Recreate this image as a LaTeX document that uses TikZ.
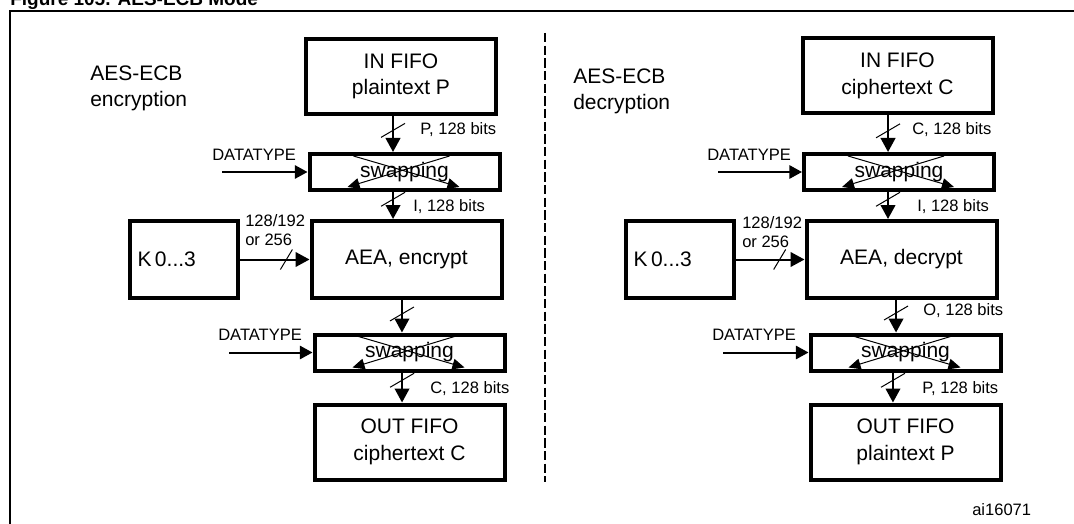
\documentclass[tikz,border=0pt]{standalone}
\usepackage{fontspec}
\setmainfont{Liberation Sans}
\usetikzlibrary{arrows.meta}

\begin{document}
\begin{tikzpicture}[x=0.75pt,y=-0.75pt,
  blockbox/.style={draw,line width=3pt,inner sep=0pt,align=center,font=\fontsize{15.75pt}{20pt}\selectfont},
  fifobox/.style={blockbox,minimum width=142.5pt,minimum height=56.25pt},
  swapbox/.style={blockbox,minimum width=142.5pt,minimum height=27pt},
  aeabox/.style={blockbox,minimum width=142.5pt,minimum height=57.75pt},
  keybox/.style={blockbox,minimum width=81pt,minimum height=57.75pt,text width=69pt,align=left},
  lbl/.style={inner sep=0pt,font=\fontsize{12.4pt}{14.25pt}\selectfont},
  bigtxt/.style={inner sep=0pt,align=left,font=\fontsize{15.75pt}{19pt}\selectfont},
  busarrow/.style={line width=1.5pt,-{Triangle[length=10.5pt,width=11pt]}},
  ctlarrow/.style={line width=1.5pt,-{Triangle[length=9.5pt,width=10pt]}},
  widthmark/.style={line width=0.75pt},
  swaparrow/.style={line width=0.75pt,-{Triangle[length=9pt,width=8pt]}}]
\useasboundingbox (0,0) rectangle (1074,524);
\clip (0,0) rectangle (1074,524);

% caption (cut at the top) and frame
\node[anchor=base west,inner sep=0pt,font=\fontsize{14.25pt}{17pt}\selectfont\bfseries] (caption) at (10,6) {Figure 105. AES-ECB Mode};
\draw[line width=2pt] (1080,11) -- (10,11) -- (10,530);
\draw[line width=1.5pt,dash pattern=on 7pt off 2.5pt] (545,33) -- (545,482);

% encryption
\node[bigtxt,anchor=north west] (encname) at (90,66) {AES-ECB\\encryption};
\node[fifobox] (inL) at (401,76.5) {IN FIFO\\plaintext P};
\node[swapbox] (swL1) at (404.5,172) {swapping};
\node[aeabox] (aeaL) at (406.5,259.5) {AEA, encrypt};
\node[keybox] (kL) at (183.5,259.5) {K\,0...3};
\node[swapbox] (swL2) at (409.5,352.5) {swapping};
\node[fifobox] (outL) at (409.5,442) {OUT FIFO\\ciphertext C};

\node[lbl,anchor=west] (dtL1) at (212,155) {DATATYPE};
\node[lbl,anchor=west] (dtL2) at (218,335) {DATATYPE};
\coordinate (inDL1) at (222,172);
\coordinate (inDL2) at (229,352.5);
\draw[ctlarrow] (inDL1) -- (inDL1 -| swL1.west);
\draw[ctlarrow] (inDL2) -- (inDL2 -| swL2.west);

\draw[busarrow] ([xshift=-6pt]inL.south) -- coordinate[pos=.4] (mL1) ([xshift=-6pt]inL.south |- swL1.north);
\draw[busarrow] ([xshift=-8.6pt]swL1.south) -- coordinate[pos=.27] (mL2) ([xshift=-8.6pt]swL1.south |- aeaL.north);
\draw[busarrow] ([xshift=-3.4pt]aeaL.south) -- coordinate[pos=.43] (mL3) ([xshift=-3.4pt]aeaL.south |- swL2.north);
\draw[busarrow] ([xshift=-5.6pt]swL2.south) -- coordinate[pos=.26] (mL4) ([xshift=-5.6pt]swL2.south |- outL.north);
\draw[busarrow] (kL.east) -- coordinate[pos=.67] (mLk) (aeaL.west);
\draw[widthmark] (mL1) ++(-12,7) -- ++(24,-14);
\draw[widthmark] (mL2) ++(-12,7) -- ++(24,-14);
\draw[widthmark] (mL3) ++(-12,7) -- ++(24,-14);
\draw[widthmark] (mL4) ++(-12,7) -- ++(24,-14);
\draw[widthmark] (mLk) ++(-6,10) -- ++(12,-20);

\draw[swaparrow] ([shift={(46,4)}]swL1.north west) -- ([shift={(152,35)}]swL1.north west);
\draw[swaparrow] ([shift={(142,4)}]swL1.north west) -- ([shift={(40,35)}]swL1.north west);
\draw[swaparrow] ([shift={(46,4)}]swL2.north west) -- ([shift={(152,35)}]swL2.north west);
\draw[swaparrow] ([shift={(142,4)}]swL2.north west) -- ([shift={(40,35)}]swL2.north west);

\node[lbl,anchor=west] (bitsL1) at (420,130) {P, 128 bits};
\node[lbl,anchor=west] (bitsL2) at (413,207) {I, 128 bits};
\node[lbl,anchor=west] (bitsL4) at (430,389) {C, 128 bits};
\node[lbl,anchor=north west,align=left] (keyL) at (245,214) {128/192\\or 256};

% decryption
\node[bigtxt,anchor=north west] (decname) at (573,69) {AES-ECB\\decryption};
\node[fifobox] (inR) at (897.5,76) {IN FIFO\\ciphertext C};
\node[swapbox] (swR1) at (899,172) {swapping};
\node[aeabox] (aeaR) at (901.5,259.5) {AEA, decrypt};
\node[keybox] (kR) at (679.5,259.5) {K\,0...3};
\node[swapbox] (swR2) at (905.5,352.5) {swapping};
\node[fifobox] (outR) at (905.5,442) {OUT FIFO\\plaintext P};

\node[lbl,anchor=west] (dtR1) at (707,155) {DATATYPE};
\node[lbl,anchor=west] (dtR2) at (712,335) {DATATYPE};
\coordinate (inDR1) at (718,172);
\coordinate (inDR2) at (723,352.5);
\draw[ctlarrow] (inDR1) -- (inDR1 -| swR1.west);
\draw[ctlarrow] (inDR2) -- (inDR2 -| swR2.west);

\draw[busarrow] ([xshift=-7.1pt]inR.south) -- coordinate[pos=.42] (mR1) ([xshift=-7.1pt]inR.south |- swR1.north);
\draw[busarrow] ([xshift=-8.25pt]swR1.south) -- coordinate[pos=.27] (mR2) ([xshift=-8.25pt]swR1.south |- aeaR.north);
\draw[busarrow] ([xshift=-4.1pt]aeaR.south) -- coordinate[pos=.4] (mR3) ([xshift=-4.1pt]aeaR.south |- swR2.north);
\draw[busarrow] ([xshift=-9.4pt]swR2.south) -- coordinate[pos=.26] (mR4) ([xshift=-9.4pt]swR2.south |- outR.north);
\draw[busarrow] (kR.east) -- coordinate[pos=.64] (mRk) (aeaR.west);
\draw[widthmark] (mR1) ++(-12,7) -- ++(24,-14);
\draw[widthmark] (mR2) ++(-12,7) -- ++(24,-14);
\draw[widthmark] (mR3) ++(-12,7) -- ++(24,-14);
\draw[widthmark] (mR4) ++(-12,7) -- ++(24,-14);
\draw[widthmark] (mRk) ++(-6,10) -- ++(12,-20);

\draw[swaparrow] ([shift={(46,4)}]swR1.north west) -- ([shift={(152,35)}]swR1.north west);
\draw[swaparrow] ([shift={(142,4)}]swR1.north west) -- ([shift={(40,35)}]swR1.north west);
\draw[swaparrow] ([shift={(46,4)}]swR2.north west) -- ([shift={(152,35)}]swR2.north west);
\draw[swaparrow] ([shift={(142,4)}]swR2.north west) -- ([shift={(40,35)}]swR2.north west);

\node[lbl,anchor=west] (bitsR1) at (912,130) {C, 128 bits};
\node[lbl,anchor=west] (bitsR2) at (917,207) {I, 128 bits};
\node[lbl,anchor=west] (bitsR3) at (923,311) {O, 128 bits};
\node[lbl,anchor=west] (bitsR4) at (922,389) {P, 128 bits};
\node[lbl,anchor=north west,align=left] (keyR) at (742,216) {128/192\\or 256};

\node[lbl,anchor=west] (figid) at (972,510) {ai16071};
\end{tikzpicture}
\end{document}
